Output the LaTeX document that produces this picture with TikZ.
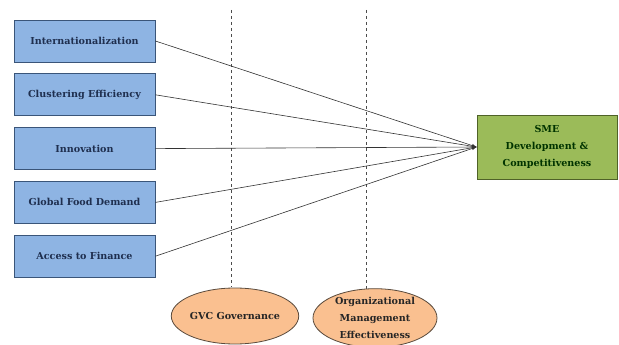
\documentclass[tikz,border=0pt]{standalone}
\usepackage{fontspec}
\setmainfont{DejaVu Serif}
\usetikzlibrary{arrows,positioning,shapes.geometric}
\definecolor{boxblue}{HTML}{8EB4E3}
\definecolor{lineblue}{HTML}{3A5579}
\definecolor{textblue}{HTML}{1F2F4F}
\definecolor{boxgreen}{HTML}{9BBB59}
\definecolor{linegreen}{HTML}{4F6228}
\definecolor{boxorange}{HTML}{FAC090}
\definecolor{lineorange}{HTML}{5A4A3C}

\begin{document}
\begin{tikzpicture}
[x=1pt,y=-1pt,
 factor/.style={rectangle,draw=lineblue,fill=boxblue,thick,minimum width=141pt,minimum height=42pt,
   inner sep=1pt,font=\bfseries\fontsize{9.6}{12}\selectfont,text=textblue},
 outcome/.style={rectangle,draw=linegreen,fill=boxgreen,thick,minimum width=140pt,minimum height=64pt,
   align=center,font=\bfseries\fontsize{9.6}{17}\selectfont,text=black!80!green},
 moderator/.style={ellipse,draw=lineorange,fill=boxorange,thick,minimum width=124pt,minimum height=56pt,
   inner sep=0pt,align=center,font=\bfseries\fontsize{9.6}{17}\selectfont,text=black!85},
 node distance=11pt]
\useasboundingbox (0,0) rectangle (619,345);
\fill[white] (0,0) rectangle (619,345);
\node[factor] (intl) at (84.5,41) {Internationalization};
\node[factor] (cluster) [below=of intl] {Clustering Efficiency};
\node[factor] (innov) [below=of cluster] {Innovation};
\node[factor] (food) [below=of innov] {Global Food Demand};
\node[factor] (finance) [below=of food] {Access to Finance};
\node[outcome] (sme) at (547,147) {SME\\Development \&\\Competitiveness};
\coordinate (gvctop) at (231,10);
\coordinate (gvcbot) at (231,287);
\coordinate (omtop) at (366,10);
\coordinate (ombot) at (366,290);
\draw[dashed,black!70] (gvctop) -- (gvcbot);
\draw[dashed,black!70] (omtop) -- (ombot);
\node[moderator] (gvc) at (235,316) {GVC Governance};
\node[moderator] (orgm) at (375,318) {Organizational\\Management\\Effectiveness};
\foreach \f in {intl,cluster,innov,food,finance}
  \draw[-latex,semithick,black!80] (\f.east) -- (sme.west);
\end{tikzpicture}
\end{document}
